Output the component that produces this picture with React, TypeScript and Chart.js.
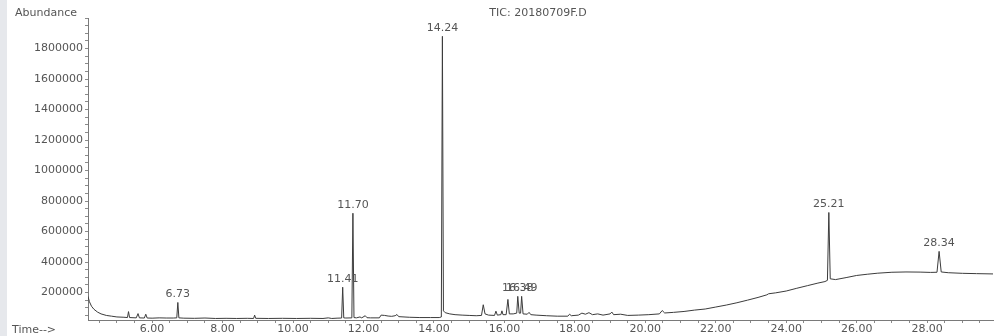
import React, { useEffect, useRef } from 'react';
import { Chart, registerables } from 'chart.js';

Chart.register(...registerables);

const chartTitle = 'TIC: 20180709F.D';
const yAxisTitle = 'Abundance';
const xAxisTitle = 'Time-->';

// retention time (min)
const times = [
  4.18, 4.22, 4.28, 4.35, 4.45, 4.55, 4.7, 4.85, 5.0, 5.2, 5.3, 5.33, 5.36, 5.55, 5.6, 5.64, 5.78, 5.82, 5.86,
  6.0, 6.2, 6.4, 6.6, 6.7, 6.73, 6.76, 6.9, 7.2, 7.5, 7.8, 8.1, 8.4, 8.7, 8.88, 8.91, 8.94, 9.3, 9.7, 10.1,
  10.5, 10.85, 11.0, 11.1, 11.25, 11.38, 11.41, 11.44, 11.5, 11.67, 11.7, 11.73, 11.8, 11.9, 11.95, 12.05,
  12.1, 12.2, 12.45, 12.5, 12.6, 12.7, 12.8, 12.9, 12.95, 13.0, 13.3, 13.6, 13.9, 14.15, 14.21, 14.24, 14.27,
  14.32, 14.45, 14.6, 14.8, 15.0, 15.2, 15.35, 15.4, 15.45, 15.55, 15.72, 15.76, 15.8, 15.9, 15.93, 15.96,
  16.05, 16.1, 16.14, 16.25, 16.35, 16.38, 16.42, 16.46, 16.49, 16.53, 16.65, 16.7, 16.75, 16.9, 17.2, 17.5,
  17.8, 17.85, 17.9, 18.1, 18.2, 18.3, 18.4, 18.5, 18.65, 18.8, 19.0, 19.05, 19.1, 19.3, 19.5, 19.8, 20.1,
  20.4, 20.48, 20.55, 20.8, 21.1, 21.4, 21.7, 22.0, 22.3, 22.6, 22.9, 23.2, 23.45, 23.5, 23.7, 24.0, 24.3,
  24.6, 24.9, 25.1, 25.17, 25.21, 25.25, 25.4, 25.7, 26.0, 26.3, 26.6, 27.0, 27.4, 27.8, 28.1, 28.28, 28.34,
  28.4, 28.6, 29.0, 29.4, 29.87,
];

// abundance (counts)
const abundance = [
  175000, 140000, 110000, 90000, 72000, 60000, 50000, 45000, 40000, 38000, 36000, 75000, 36000, 34000, 62000, 34000, 33000, 58000, 33000,
  32000, 34000, 33000, 33000, 34000, 135000, 34000, 32000, 31000, 33000, 30000, 31000, 30000, 31000, 30000, 52000, 31000, 30000, 31000, 30000,
  31000, 30000, 34000, 30000, 32000, 33000, 235000, 34000, 33000, 34000, 720000, 36000, 34000, 40000, 34000, 48000,
  35000, 34000, 34000, 52000, 50000, 46000, 44000, 48000, 56000, 42000, 38000, 36000, 36000, 36000, 40000, 1880000, 80000,
  68000, 60000, 55000, 52000, 50000, 48000, 50000, 120000, 60000, 52000, 50000, 78000, 52000, 55000, 80000, 55000,
  55000, 155000, 60000, 60000, 65000, 175000, 65000, 65000, 175000, 60000, 58000, 70000, 55000, 52000, 48000, 45000,
  45000, 58000, 48000, 52000, 65000, 58000, 68000, 55000, 60000, 52000, 60000, 72000, 55000, 58000, 50000, 52000, 55000,
  60000, 82000, 66000, 70000, 76000, 85000, 92000, 105000, 118000, 133000, 150000, 168000, 185000, 192000, 198000, 210000, 228000,
  245000, 262000, 272000, 280000, 725000, 290000, 285000, 298000, 312000, 320000, 327000, 333000, 335000, 334000, 332000, 333000, 470000,
  335000, 330000, 326000, 324000, 322000,
];

const peakLabels = ['6.73', '11.41', '11.70', '14.24', '16.38', '16.49', '25.21', '28.34'];
const xTickLabels = ['6.00', '8.00', '10.00', '12.00', '14.00', '16.00', '18.00', '20.00', '22.00', '24.00', '26.00', '28.00'];
const yTickLabels = ['200000', '400000', '600000', '800000', '1000000', '1200000', '1400000', '1600000', '1800000'];

const X_MIN = 4.18;
const X_MAX = 29.87;
const X_MINOR_STEP = 0.5;
const Y_MIN = 20000;
const Y_MAX = 2000000;
const Y_MINOR_STEP = 50000;

const FONT = '"DejaVu Sans", "Liberation Sans", Arial, sans-serif';
const TEXT_COLOR = '#555';

function stepTicks(min: number, max: number, step: number) {
  const out: { value: number }[] = [];
  const start = Math.ceil(min / step - 1e-9);
  const end = Math.floor(max / step + 1e-9);
  for (let k = start; k <= end; k++) out.push({ value: Math.round(k * step * 1000) / 1000 });
  return out;
}

const decorPlugin = {
  id: 'decor',
  beforeDraw(chart: any) {
    const ctx = chart.ctx;
    ctx.save();
    ctx.fillStyle = '#ffffff';
    ctx.fillRect(0, 0, chart.width, chart.height);
    ctx.fillStyle = '#e6e8ec';
    ctx.fillRect(0, 0, 7, chart.height);
    ctx.restore();
  },
  afterDraw(chart: any) {
    const ctx = chart.ctx;
    const xs = chart.scales.x;
    const ys = chart.scales.y;
    ctx.save();
    ctx.fillStyle = TEXT_COLOR;
    ctx.font = `11px ${FONT}`;
    ctx.textBaseline = 'middle';
    ctx.textAlign = 'left';
    ctx.fillText(yAxisTitle, 15, 13);
    ctx.fillText(xAxisTitle, 12, 330);
    ctx.textAlign = 'center';
    ctx.fillText(chartTitle, 538, 13);
    ctx.textBaseline = 'bottom';
    for (const lab of peakLabels) {
      const t = parseFloat(lab);
      let best = 0;
      for (let i = 1; i < times.length; i++) {
        if (Math.abs(times[i] - t) < Math.abs(times[best] - t)) best = i;
      }
      const px = xs.getPixelForValue(t);
      const py = ys.getPixelForValue(abundance[best]);
      ctx.fillText(lab, px, py - 3);
    }
    ctx.restore();
  },
};

export default function App() {
  const ref = useRef<HTMLCanvasElement | null>(null);

  useEffect(() => {
    document.body.style.margin = '0';
    const canvas = ref.current;
    if (!canvas) return;
    const chart = new Chart(canvas, {
      type: 'line',
      data: {
        datasets: [
          {
            data: times.map((t, i) => ({ x: t, y: abundance[i] })),
            borderColor: '#3c3c3c',
            borderWidth: 1,
            pointRadius: 0,
            tension: 0,
            fill: false,
          },
        ],
      },
      options: {
        animation: false,
        responsive: false,
        devicePixelRatio: 1,
        layout: { padding: { top: 18, right: 1, bottom: 0, left: 0 } },
        plugins: {
          legend: { display: false },
          tooltip: { enabled: false },
          title: { display: false },
        },
        scales: {
          x: {
            type: 'linear',
            min: X_MIN,
            max: X_MAX,
            afterBuildTicks: (s: any) => { s.ticks = stepTicks(X_MIN, X_MAX, X_MINOR_STEP); },
            afterFit: (s: any) => { s.height = 16; },
            border: { display: true, color: '#7a7a7a', width: 1 },
            grid: { display: true, drawOnChartArea: false, drawTicks: true, tickLength: 3, color: '#8a8a8a' },
            ticks: {
              autoSkip: false,
              maxRotation: 0,
              padding: 0,
              color: TEXT_COLOR,
              font: { family: FONT, size: 11 },
              callback: (v: any) => {
                const s = Number(v).toFixed(2);
                return xTickLabels.includes(s) ? s : '';
              },
            },
          },
          y: {
            type: 'linear',
            min: Y_MIN,
            max: Y_MAX,
            afterBuildTicks: (s: any) => { s.ticks = stepTicks(Y_MIN, Y_MAX, Y_MINOR_STEP); },
            afterFit: (s: any) => { s.width = 88; },
            border: { display: true, color: '#7a7a7a', width: 1 },
            grid: { display: true, drawOnChartArea: false, drawTicks: true, tickLength: 3, color: '#8a8a8a' },
            ticks: {
              autoSkip: false,
              padding: 2,
              color: TEXT_COLOR,
              font: { family: FONT, size: 11 },
              callback: (v: any) => {
                const s = String(Math.round(Number(v)));
                return yTickLabels.includes(s) ? s : '';
              },
            },
          },
        },
      },
      plugins: [decorPlugin],
    });
    return () => chart.destroy();
  }, []);

  return (
    <div style={{ position: 'absolute', left: 0, top: 0, width: 994, height: 336 }}>
      <canvas ref={ref} width={994} height={336} />
    </div>
  );
}
